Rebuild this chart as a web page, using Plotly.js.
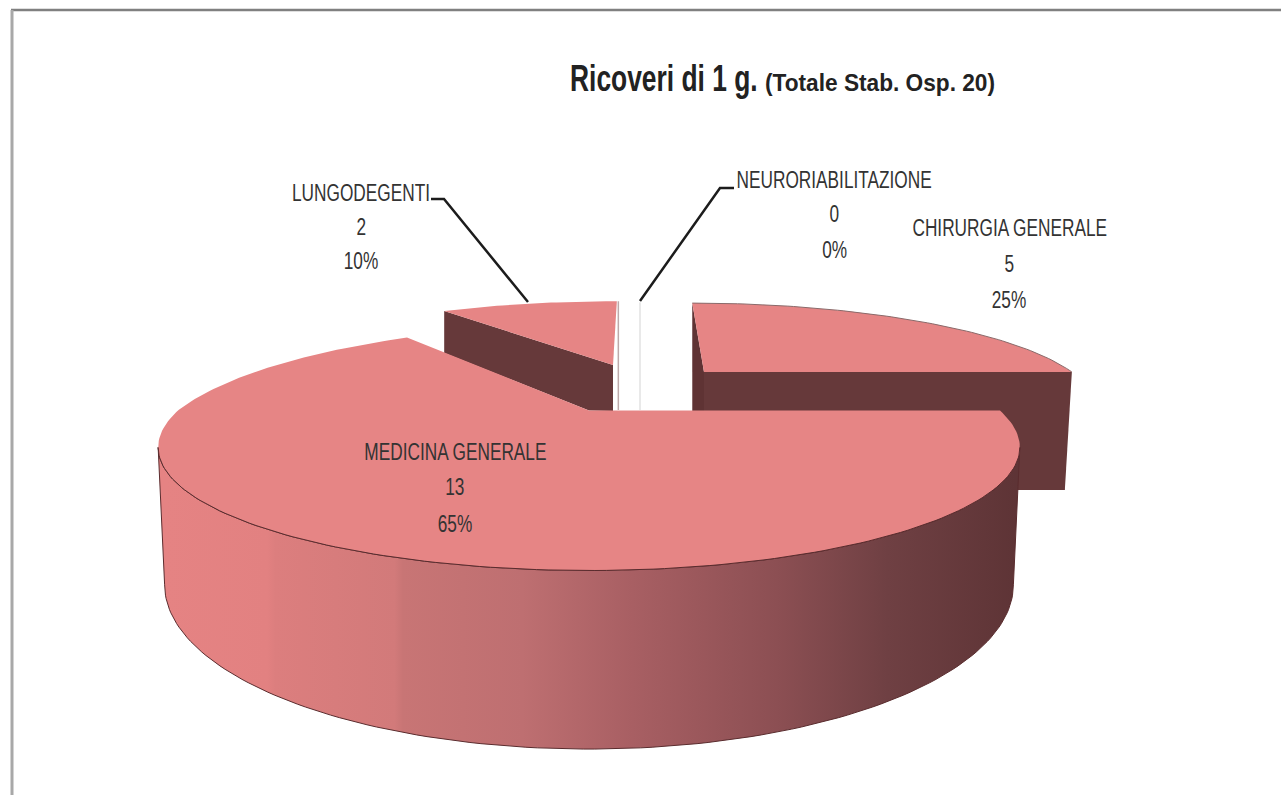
<!DOCTYPE html>
<html><head><meta charset="utf-8">
<script src="https://cdn.plot.ly/plotly-3.0.1.min.js"></script>
<style>html,body{margin:0;padding:0;background:#fff}#c{width:1281px;height:795px}</style>
</head><body><div id="c"></div>
<script>
// Data
const categories = ["CHIRURGIA GENERALE", "MEDICINA GENERALE", "LUNGODEGENTI", "NEURORIABILITAZIONE"];
const values = [5, 13, 2, 0];
const percents = ["25%", "65%", "10%", "0%"];
const titleMain = "Ricoveri di 1 g. ";
const titleSub = "(Totale Stab. Osp. 20)";

// Colours
const topColor = "#E68585", wallColor = "#66393A", edge = "#5A2C2E";
const wallScale = [[0,"#E58383"],[0.12,"#E28181"],[0.13,"#DC7E7E"],[0.27,"#D27A7A"],[0.28,"#C87575"],[0.42,"#BE6F71"],[0.55,"#A85F63"],[0.72,"#8C4F53"],[0.85,"#6F4043"],[1,"#5E3436"]];

// 3D-pie projection (pixel-space axes)
const persp = 0.3, Rx = 411, Ry = 112, H = 125;
// per-slice: apex position, scale, back-skew
const sliceGeo = [
  {ax:704, ay:372, sx:0.895, sy:0.80, skew:0.17},
  {ax:589, ay:410.5, sx:1, sy:1, skew:-0.17},
  {ax:613, ay:365, sx:0.885, sy:0.74, skew:-0.06},
  {ax:640, ay:410, sx:1, sy:1.25, skew:0}
];
function proj(g, th, depth){
  const s = 1/(1+persp*Math.cos(th));
  let dx = Rx*Math.sin(th)*s*g.sx;
  const dy = -Ry*Math.cos(th)*s*g.sy;
  if (dy<0) dx += g.skew*dy;
  if (depth) dx *= 0.985;
  return [g.ax+dx, g.ay+dy+(depth?H*s*depth:0)];
}
function arc(g, a0, a1, depth){
  const xs=[], ys=[], n=Math.max(2,Math.ceil(Math.abs(a1-a0)/0.02));
  for(let i=0;i<=n;i++){const p=proj(g,a0+(a1-a0)*i/n,depth);xs.push(p[0]);ys.push(p[1]);}
  return [xs,ys];
}
const total = values.reduce((a,b)=>a+b,0);
const ang = []; let acc=0;
values.forEach(v=>{ang.push([acc/total*2*Math.PI,(acc+v)/total*2*Math.PI]);acc+=v;});

function poly(x,y,fill,line,extra){
  return Object.assign({type:"scatter",mode:"lines",x:x,y:y,fill:"toself",fillcolor:fill,
    line:{color:line||fill,width:line?1:0},hoverinfo:"skip",showlegend:false},extra||{});
}
function face(i){
  const g=sliceGeo[i], a=arc(g,ang[i][0],ang[i][1],0);
  return poly([g.ax].concat(a[0],[g.ax]),[g.ay].concat(a[1],[g.ay]),topColor);
}
const traces=[];

// Chirurgia (back right): outer wall, radial wall, top
{ const g=sliceGeo[0], t=proj(g,ang[0][1],0);
  traces.push(poly([g.ax,t[0],t[0]-7,g.ax],[g.ay,t[1],t[1]+118,g.ay+118],wallColor));
  const p=proj(g,ang[0][0],0);
  traces.push(poly([p[0],g.ax,g.ax,p[0]],[p[1],g.ay,g.ay+40,g.ay+40],"#5F3334"));
  traces.push(face(0));
  const a=arc(g,ang[0][0],ang[0][1],0);
  traces.push({type:"scatter",mode:"lines",x:a[0],y:a[1],line:{color:"#8a6a6a",width:1},hoverinfo:"skip",showlegend:false});
}
// Lungodegenti: radial wall, top
{ const g=sliceGeo[2], p=proj(g,ang[2][0],0), m=sliceGeo[1];
  traces.push(poly([p[0],g.ax,g.ax,m.ax,p[0]],[p[1],g.ay,g.ay+46,m.ay,p[1]+42],wallColor));
  traces.push(face(2));
  const t=proj(g,ang[2][1],0);
  traces.push({type:"scatter",mode:"lines",x:[t[0]+1.5,t[0]+1.5],y:[t[1],g.ay+45],line:{color:"#BDAAAA",width:1.5},hoverinfo:"skip",showlegend:false});
}
// Neuroriabilitazione: zero-size slice drawn as a line
{ const g=sliceGeo[3], a=arc(g,ang[3][0],ang[3][1],0);
  traces.push({type:"scatter",mode:"lines",x:[g.ax].concat(a[0]),y:[g.ay].concat(a[1]),line:{color:"#D3D3D3",width:1},hoverinfo:"skip",showlegend:false});
}
// Medicina: front wall with gradient, top
{ const g=sliceGeo[1], a0=Math.acos(-persp), a1=2*Math.PI-a0;
  const top=arc(g,a0,a1,0), bot=arc(g,a1,a0,1);
  const xs=top[0].concat(bot[0],[top[0][0]]), ys=top[1].concat(bot[1],[top[1][0]]);
  traces.push(poly(xs,ys,undefined,edge,{fillgradient:{type:"horizontal",start:165,stop:1015,colorscale:wallScale}}));
  traces.push(face(1));
  traces.push({type:"scatter",mode:"lines",x:top[0],y:top[1],line:{color:edge,width:1},hoverinfo:"skip",showlegend:false});
}
// Leader lines
const leaders=[{x:[431,444,528],y:[199,199,302]},{x:[734,720,640],y:[188,188,301]}];
leaders.forEach(l=>traces.push({type:"scatter",mode:"lines",x:l.x,y:l.y,line:{color:"#1c1c1c",width:2.5},hoverinfo:"skip",showlegend:false}));

// Labels
const labelPos=[[1009,[228,264,300]],[455,[452,487,524]],[361,[193,227,261]],[834,[180,214,250]]];
const fam="'Liberation Sans',sans-serif";
const font={family:fam,size:23,color:"#333"};
const annotations=[];
categories.forEach((c,i)=>{
  [c,String(values[i]),percents[i]].forEach((t,j)=>{
    annotations.push({xref:"x",yref:"y",x:labelPos[i][0],y:labelPos[i][1][j],text:t,showarrow:false,font:font,xanchor:"center",yanchor:"middle"});
  });
});

const layout={
  width:1281,height:795,margin:{l:0,r:0,t:0,b:0},
  paper_bgcolor:"#fff",plot_bgcolor:"#fff",showlegend:false,
  title:{text:'<span style="font-size:36px">'+titleMain+'</span><span style="font-size:24px">'+titleSub+'</span>',
    x:570/1281,xanchor:"left",y:1-78/795,yanchor:"middle",
    font:{family:fam,size:36,weight:700,color:"#222"}},
  xaxis:{range:[0,1281],visible:false,fixedrange:true},
  yaxis:{range:[795,0],visible:false,fixedrange:true},
  annotations:annotations,
  shapes:[
    {type:"line",xref:"paper",yref:"paper",x0:11/1281,x1:1,y0:1-10/795,y1:1-10/795,line:{color:"#808080",width:2.5}},
    {type:"line",xref:"paper",yref:"paper",x0:12/1281,x1:12/1281,y0:1-10/795,y1:0,line:{color:"#a8a8a8",width:3}}
  ]
};
// No condensed face is installed: narrow the real text to the reference's widths
function fit(el,w){
  el.setAttribute("textLength",w);
  el.setAttribute("lengthAdjust","spacingAndGlyphs");
}
Plotly.newPlot("c",traces,layout,{displayModeBar:false,staticPlot:true}).then(gd=>{
  gd.querySelectorAll(".annotation-text").forEach(el=>fit(el,(el.getComputedTextLength()*0.75).toFixed(1)));
  const spans=gd.querySelectorAll(".gtitle tspan");
  if(spans.length>=2){ fit(spans[0],195); fit(spans[1],230); }
});
</script></body></html>
